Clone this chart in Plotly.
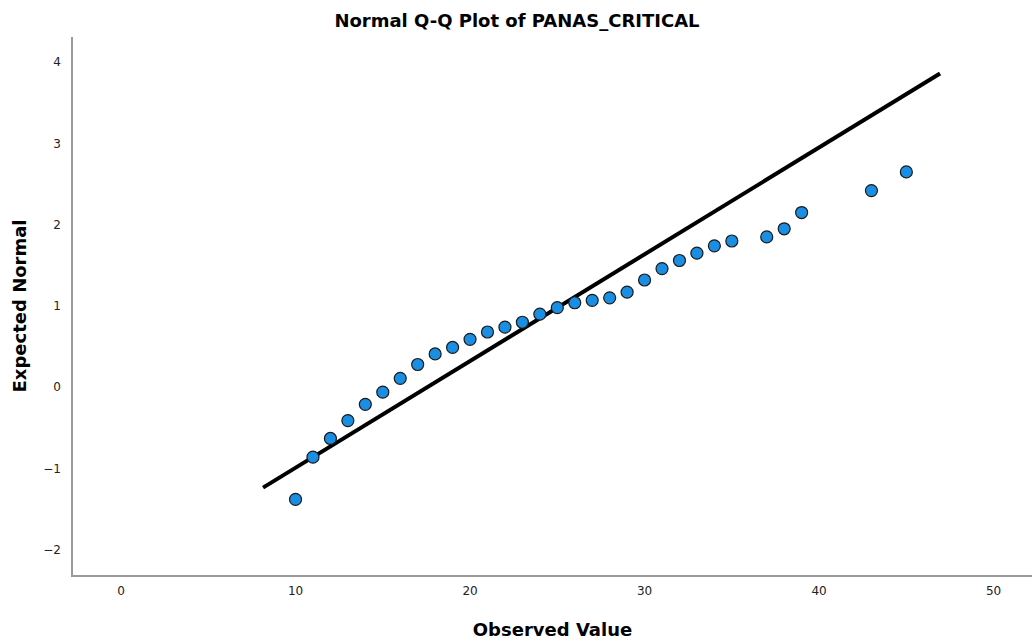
import plotly.graph_objects as go

observed = [10, 11, 12, 13, 14, 15, 16, 17, 18, 19, 20, 21, 22, 23, 24, 25, 26, 27, 28, 29,
            30, 31, 32, 33, 34, 35, 37, 38, 39, 43, 45]
expected = [-1.38, -0.86, -0.63, -0.41, -0.21, -0.06, 0.11, 0.28, 0.41, 0.49, 0.59, 0.68, 0.74,
            0.80, 0.90, 0.98, 1.04, 1.07, 1.10, 1.17, 1.32, 1.46, 1.56, 1.65, 1.74, 1.80, 1.85,
            1.95, 2.15, 2.42, 2.65]
line_x = [8.14, 46.93]
line_y = [-1.235, 3.86]

x_ticks = [0, 10, 20, 30, 40, 50]
y_ticks = [-2, -1, 0, 1, 2, 3, 4]

fig = go.Figure()
fig.add_trace(go.Scatter(x=line_x, y=line_y, mode="lines",
                         line=dict(color="black", width=4), showlegend=False))
fig.add_trace(go.Scatter(x=observed, y=expected, mode="markers",
                         marker=dict(size=12, color="#1a8ee3",
                                     line=dict(color="#1a1a1a", width=1.2)),
                         showlegend=False))

font_family = "DejaVu Sans, Open Sans, sans-serif"
fig.update_layout(
    width=1034, height=644,
    margin=dict(l=73, r=2, t=37, b=69),
    paper_bgcolor="white", plot_bgcolor="white",
    title=dict(text="<b>Normal Q-Q Plot of PANAS_CRITICAL</b>", x=0.5, xanchor="center",
               y=0.968, yanchor="middle",
               font=dict(family=font_family, size=18, color="black")),
    font=dict(family=font_family, color="black"),
)
fig.update_xaxes(range=[-2.75, 52.2], tickvals=x_ticks, showgrid=False, zeroline=False,
                 showline=True, linecolor="#999999", linewidth=1.5, ticks="",
                 tickfont=dict(size=12, color="#222222"), ticklabelstandoff=4,
                 title=dict(text="<b>Observed Value</b>", font=dict(size=18, color="black"), standoff=26))
fig.update_yaxes(range=[-2.31, 4.31], tickvals=y_ticks, showgrid=False, zeroline=False,
                 showline=True, linecolor="#999999", linewidth=1.5, ticks="",
                 tickfont=dict(size=12, color="#222222"), ticklabelstandoff=8,
                 title=dict(text="<b>Expected Normal</b>", font=dict(size=18, color="black"), standoff=12))

fig.write_html("out.html")
